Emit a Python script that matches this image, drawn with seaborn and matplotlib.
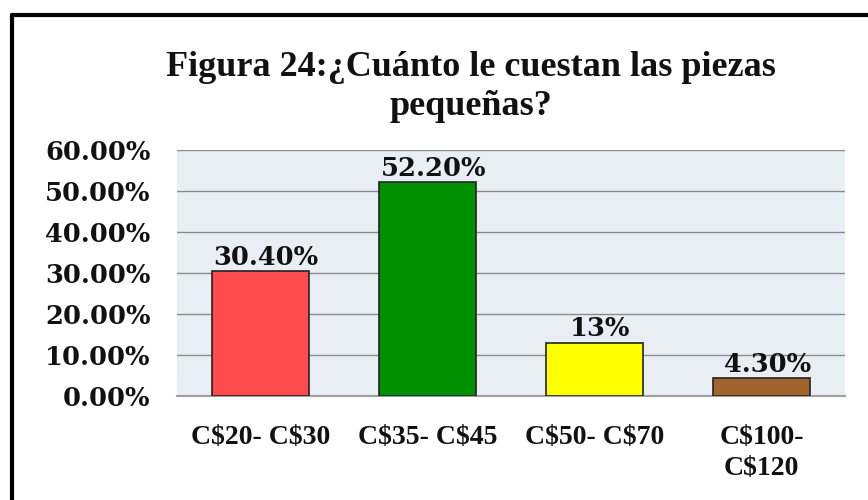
import matplotlib
matplotlib.use("Agg")
import matplotlib.pyplot as plt
import seaborn as sns
import pandas as pd
from matplotlib.lines import Line2D

categories = ["C$20- C$30", "C$35- C$45", "C$50- C$70", "C$100-\nC$120"]
values = [0.304, 0.522, 0.13, 0.043]
value_labels = ["30.40%", "52.20%", "13%", "4.30%"]
bar_colors = ["#FF4B4B", "#009000", "#FFFF00", "#A0642D"]
y_ticks = [0.0, 0.1, 0.2, 0.3, 0.4, 0.5, 0.6]
y_tick_labels = ["0.00%", "10.00%", "20.00%", "30.00%", "40.00%", "50.00%", "60.00%"]
title = "Figura 24:¿Cuánto le cuestan las piezas\npequeñas?"

sns.set_theme(style="white")
plt.rcParams['font.family'] = ['Liberation Serif', 'DejaVu Serif']

df = pd.DataFrame({"cat": categories, "val": values})

fig = plt.figure(figsize=(8.68, 5.0), dpi=100)
fig.patch.set_facecolor("white")
ax = fig.add_axes([0.204, 0.208, 0.7696, 0.492])
ax.set_facecolor("#E8EEF4")

sns.barplot(data=df, x="cat", y="val", hue="cat", palette=bar_colors,
            legend=False, width=0.58, edgecolor="#222222", linewidth=1.2,
            saturation=1, ax=ax, zorder=3)

ax.set_ylim(0, 0.6)
ax.set_yticks(y_ticks)
ax.set_yticklabels(y_tick_labels, fontfamily="DejaVu Serif", fontweight="bold",
                   fontsize=18.5, color="#111111")
ax.set_xticks(range(len(categories)))
ax.set_xticklabels([c.replace("$", r"\$") for c in categories],
                   fontfamily="Liberation Serif", fontweight="bold", fontsize=20,
                   color="#111111", linespacing=1.3)
ax.tick_params(axis="y", length=0, pad=19)
ax.tick_params(axis="x", length=0, pad=21)
ax.set_xlabel("")
ax.set_ylabel("")
ax.yaxis.grid(True, color="#8C8C8C", linewidth=1.0, zorder=0)
ax.set_axisbelow(True)
for s in ["left", "right", "top"]:
    ax.spines[s].set_visible(False)
ax.spines["bottom"].set_color("#A0A0A0")
ax.spines["bottom"].set_linewidth(1.5)

for i, (v, lab) in enumerate(zip(values, value_labels)):
    ax.annotate(lab, (i, v), xytext=(4, 1), textcoords="offset points",
                ha="center", va="bottom", fontfamily="DejaVu Serif",
                fontweight="bold", fontsize=18.5, color="#111111", zorder=5)

fig.text(0.543, 0.826, title, ha="center", va="center", fontsize=26,
         fontweight="bold", fontfamily="Liberation Serif", linespacing=1.25,
         color="#111111")

# frame lines (top and left)
fig.add_artist(Line2D([0.0135, 1.0], [0.971, 0.971], color="black", linewidth=3,
                      transform=fig.transFigure))
fig.add_artist(Line2D([0.0135, 0.0135], [0.0, 0.971], color="black", linewidth=3,
                      transform=fig.transFigure))

fig.savefig("out.png", dpi=100, facecolor="white")
